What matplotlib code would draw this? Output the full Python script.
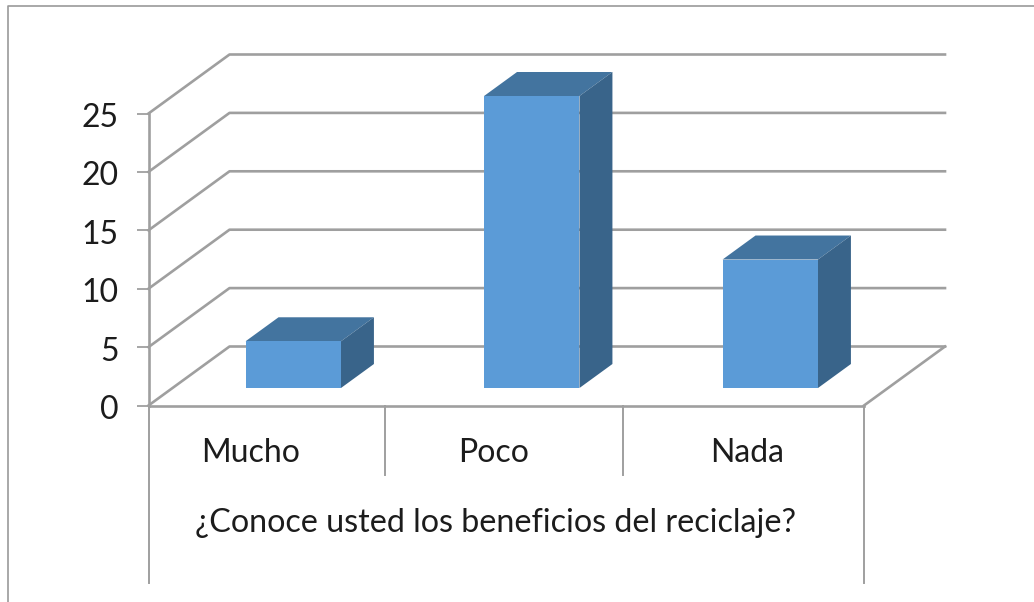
import numpy as np
import matplotlib
matplotlib.use("Agg")
import matplotlib.pyplot as plt
from matplotlib.lines import Line2D
from matplotlib.patches import Polygon
from matplotlib.transforms import ScaledTranslation

# data
categories = ["Mucho", "Poco", "Nada"]
values = [4, 25, 11]
y_ticks = [0, 5, 10, 15, 20, 25]
axis_title = "¿Conoce usted los beneficios del reciclaje?"

W, H = 1034, 602
FRONT, SIDE, TOP = "#5b9bd7", "#39648a", "#43749f"
GRAY = "#9f9f9f"
TEXT = "#1c1c1c"
plt.rcParams["font.family"] = ["Lato", "DejaVu Sans"]

fig = plt.figure(figsize=(W / 100, H / 100), dpi=100)

# axes box is the front of the floor/left wall, in pixels of the reference
x0, x1, y0, y25 = 148.5, 864, 405.5, 113.5
ax = fig.add_axes([x0 / W, 1 - y0 / H, (x1 - x0) / W, (y0 - y25) / H])
ax.set_xlim(0, 3)
ax.set_ylim(0, 25)
ax.patch.set_alpha(0)

# depth of the box, in data units
px_x = 3 / (x1 - x0)
px_y = 25 / (y0 - y25)
DX, DY = 81 * px_x, 59 * px_y


def project(x, v, d):
    return x + d * DX, v + d * DY


# walls and gridlines
for t in y_ticks:
    xs, ys = zip(project(0, t, 0), project(0, t, 1), project(3, t, 1))
    ax.plot(xs, ys, color=GRAY, lw=1.9, clip_on=False, zorder=1)
xs, ys = zip(project(3, 0, 0), project(3, 0, 1))
ax.plot(xs, ys, color=GRAY, lw=1.9, clip_on=False, zorder=1)

# bars
positions = np.arange(len(categories)) + 0.5 + 1.5 * px_x
bar_w = 0.4
d0, d1 = 17.5 / 59, 41.5 / 59
for px, val in zip(positions, values):
    left, right = px - bar_w / 2, px + bar_w / 2
    ax.add_patch(Polygon([project(left, val, d0), project(right, val, d0),
                          project(right, val, d1), project(left, val, d1)],
                         color=TOP, lw=0, clip_on=False, zorder=3))
    ax.add_patch(Polygon([project(right, 0, d0), project(right, val, d0),
                          project(right, val, d1), project(right, 0, d1)],
                         color=SIDE, lw=0, clip_on=False, zorder=3))
ax.bar(positions + d0 * DX, values, bar_w, bottom=d0 * DY, color=FRONT, zorder=4, clip_on=False)

# axis look
for s in ["top", "right"]:
    ax.spines[s].set_visible(False)
for s in ["left", "bottom"]:
    ax.spines[s].set_color(GRAY)
    ax.spines[s].set_linewidth(1.9)
ax.set_yticks(y_ticks)
ax.tick_params(axis="y", length=8.5, width=1.3, color=GRAY, labelcolor=TEXT, labelsize=23, pad=13)
ax.set_xticks([])
offset = ScaledTranslation(0, -1.5 / 100, fig.dpi_scale_trans)
for lab in ax.get_yticklabels():
    lab.set_transform(lab.get_transform() + offset)

# category separators below the floor
sep_px = [148.5, 385, 623, 864]
for x, low in zip(sep_px, [583, 475, 475, 583]):
    ax.plot([(x - x0) * px_x] * 2, [0, (y0 - low) * px_y], color=GRAY, lw=1.4, clip_on=False, zorder=1)

# labels
label_px = [251, 494, 747]
for lab, px in zip(categories, label_px):
    ax.text((px - x0) * px_x, (y0 - 453) * px_y, lab, ha="center", va="center",
            fontsize=23, color=TEXT)
ax.text((495 - x0) * px_x, (y0 - 523) * px_y, axis_title, ha="center", va="center",
        fontsize=23.2, color=TEXT)

# chart border
bx, by = 7.5 / W, 1 - 5.5 / H
fig.add_artist(Line2D([bx, bx, 1], [0, by, by], color="#9a9a9a", lw=1.2))

fig.savefig("out.png", dpi=100)
